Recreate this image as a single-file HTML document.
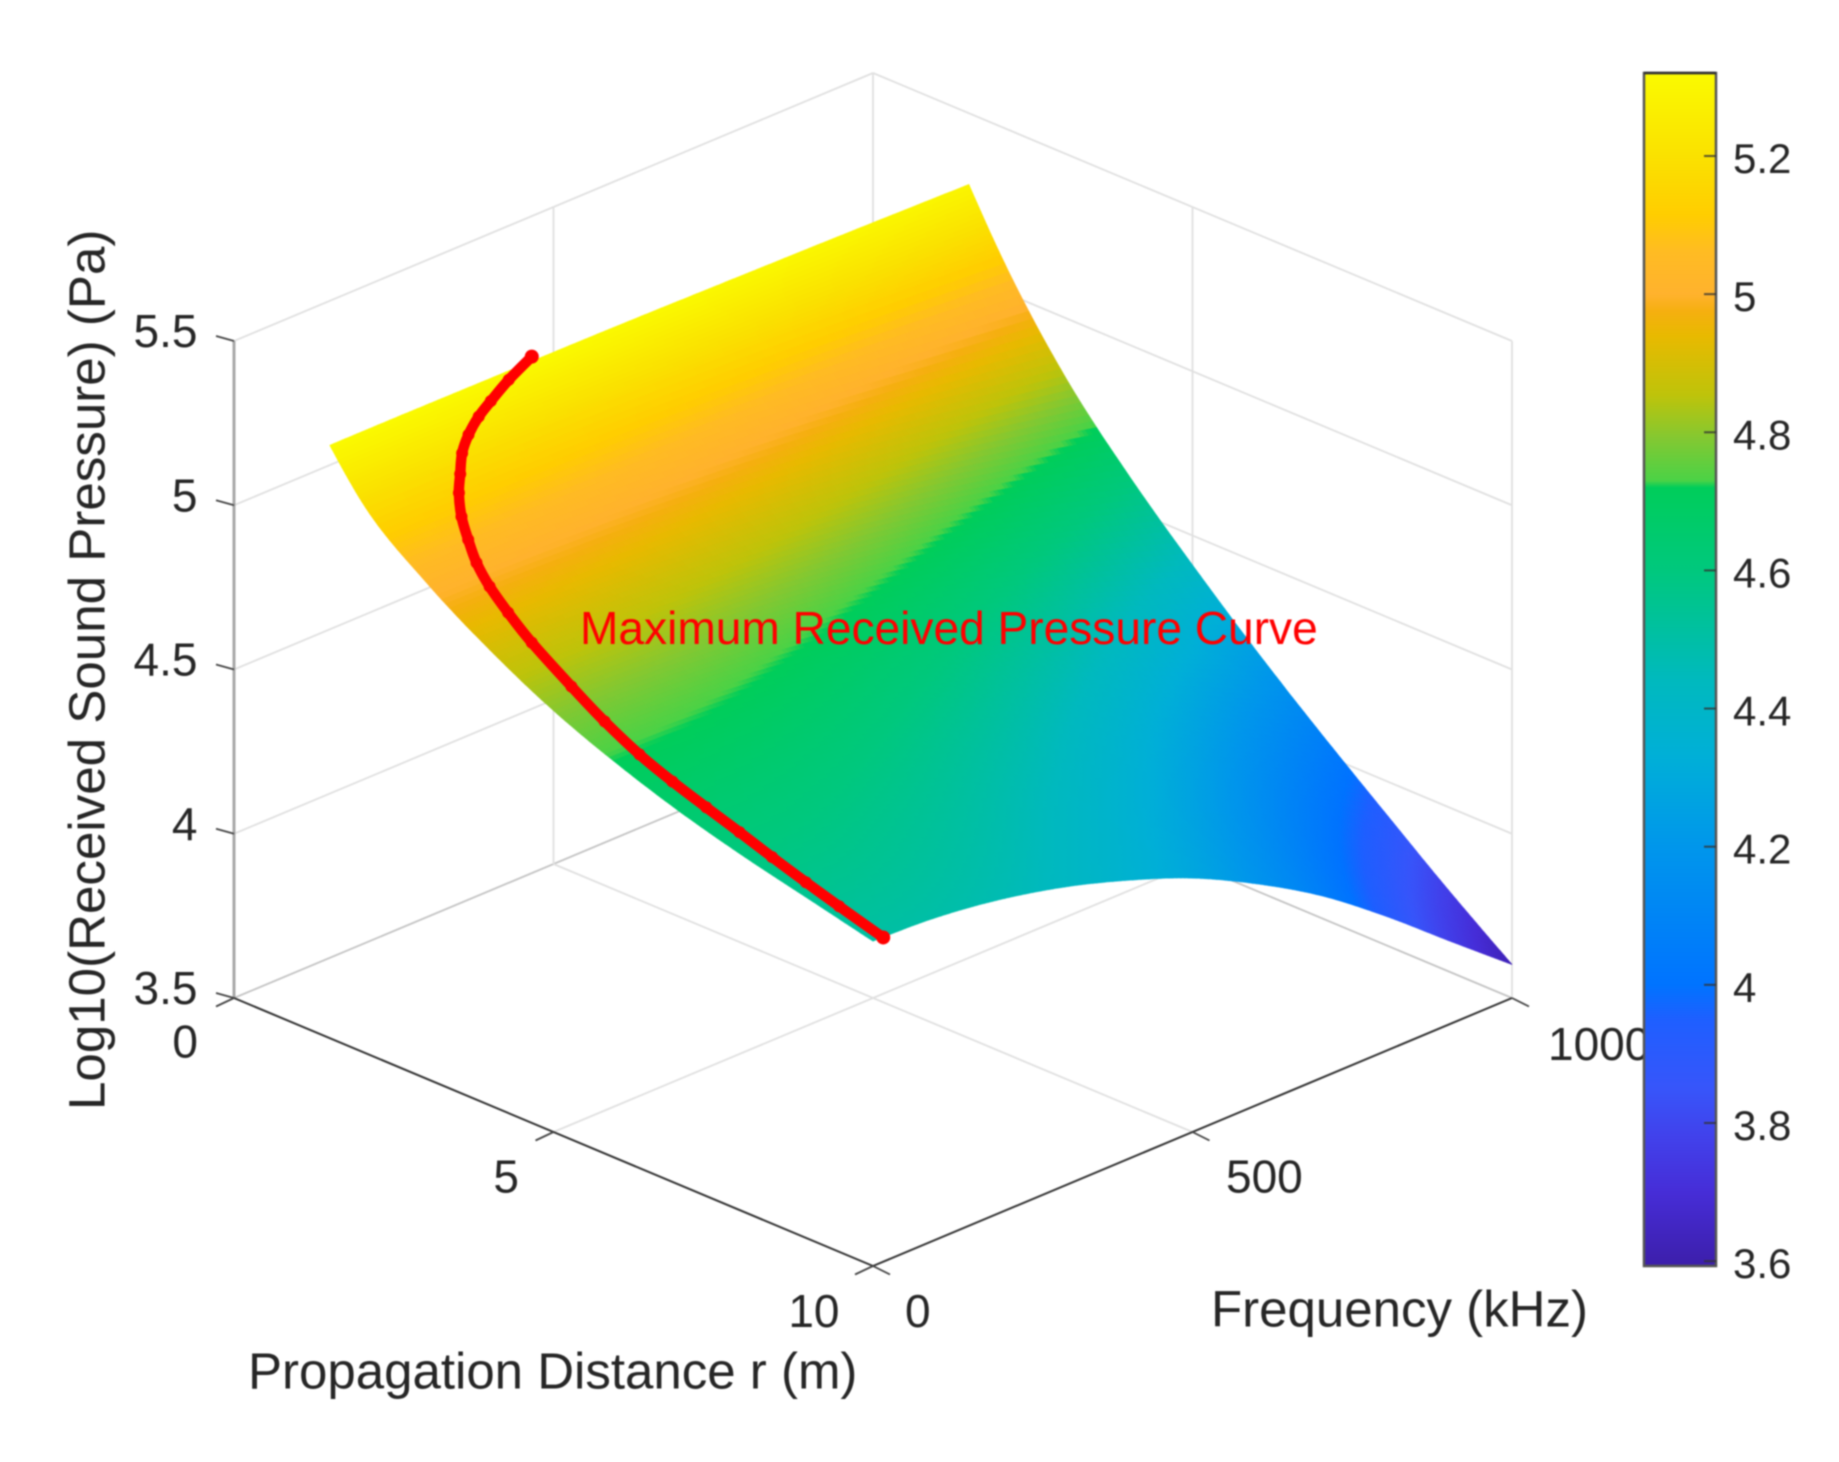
<!DOCTYPE html>
<html lang="en">
<head>
<meta charset="utf-8">
<title>Maximum Received Pressure Surface</title>
<style>
html,body{margin:0;padding:0;background:#fff;width:1839px;height:1462px;overflow:hidden}
svg{display:block;filter:blur(0.85px)}
text{font-family:"Liberation Sans",Arial,sans-serif;fill:#262626}
</style>
</head>
<body>
<svg id="chart" xmlns="http://www.w3.org/2000/svg" width="1839" height="1462" viewBox="0 0 1839 1462">
  <rect width="1839" height="1462" fill="#ffffff"/>
  <g id="grid"></g>
  <g id="surface"></g>
  <g id="curve"></g>
  <g id="axes"></g>
  <text x="248" y="1388.5" font-size="51">Propagation Distance r (m)</text>
  <text x="1211" y="1326.5" font-size="51">Frequency (kHz)</text>
  <text transform="translate(104.5 1110) rotate(-90)" font-size="51.1">Log10(Received Sound Pressure) (Pa)</text>
  <text x="580" y="644" font-size="46.1" style="fill:#ff0000">Maximum Received Pressure Curve</text>
  <g id="colorbar"></g>
</svg>
<script>
// ---- Data ----
const rValues = [1.5, 2, 3, 4, 5, 6, 7, 8, 9, 10];
const freqValues = [0, 100, 200, 300, 400, 500, 600, 700, 800, 900, 1000];
const zRow1p5 = [5.305, 5.305, 5.304, 5.303, 5.302, 5.300, 5.297, 5.294, 5.291, 5.287, 5.283];
const zRow2 = [5.174, 5.173, 5.171, 5.168, 5.164, 5.158, 5.151, 5.142, 5.131, 5.120, 5.108];
const zRow3 = [5.012, 5.010, 5.004, 4.995, 4.982, 4.966, 4.945, 4.919, 4.889, 4.856, 4.822];
const zRow4 = [4.887, 4.884, 4.875, 4.861, 4.842, 4.817, 4.786, 4.748, 4.703, 4.653, 4.602];
const zRow5 = [4.783, 4.779, 4.768, 4.749, 4.724, 4.692, 4.651, 4.601, 4.542, 4.477, 4.410];
const zRow6 = [4.702, 4.697, 4.683, 4.660, 4.627, 4.587, 4.534, 4.472, 4.398, 4.315, 4.230];
const zRow7 = [4.635, 4.629, 4.612, 4.584, 4.544, 4.495, 4.432, 4.356, 4.266, 4.166, 4.063];
const zRow8 = [4.581, 4.574, 4.553, 4.520, 4.473, 4.416, 4.341, 4.251, 4.144, 4.026, 3.904];
const zRow9 = [4.535, 4.527, 4.503, 4.464, 4.410, 4.343, 4.256, 4.151, 4.027, 3.890, 3.748];
const zRow10 = [4.489, 4.480, 4.453, 4.409, 4.348, 4.273, 4.174, 4.057, 3.914, 3.757, 3.602];
const zMatrix = [zRow1p5, zRow2, zRow3, zRow4, zRow5, zRow6, zRow7, zRow8, zRow9, zRow10];

const curveR = [1.5, 1.55, 1.65, 1.72, 1.82, 1.93, 2.1, 2.27, 2.5, 2.75, 3.0, 3.35, 3.7, 4.12, 4.85, 5.4, 6, 6.5, 7.05, 7.62, 8.15, 8.75, 9.25, 10];
const curveF = [316, 275, 237, 211, 185, 164, 144, 125, 106, 91.5, 79.5, 65, 59, 54, 43, 40, 34.5, 36, 34, 29, 27, 20, 22, 16];
const curveZ = [5.317, 5.284, 5.2585, 5.238, 5.212, 5.182, 5.149, 5.121, 5.083, 5.045, 5.005, 4.973, 4.927, 4.874, 4.809, 4.75, 4.703, 4.66, 4.628, 4.603, 4.572, 4.55, 4.516, 4.487];

const rTicks = [0, 5, 10];
const fTicks = [0, 500, 1000];
const zTicks = [3.5, 4, 4.5, 5, 5.5];
const zTickLabels = ['3.5', '4', '4.5', '5', '5.5'];
const colorTicks = [3.6, 3.8, 4, 4.2, 4.4, 4.6, 4.8, 5, 5.2];
const colorTickLabels = ['3.6', '3.8', '4', '4.2', '4.4', '4.6', '4.8', '5', '5.2'];

const cmapValues = [3.593, 3.7, 3.78, 3.85, 3.95, 4.0, 4.2, 4.33, 4.44, 4.6, 4.72, 4.73, 4.79, 4.854, 4.94, 4.975, 5.0, 5.06, 5.115, 5.2, 5.32];
const cmapColors = [[60,30,170],[70,45,215],[65,65,235],[55,85,250],[30,95,255],[0,115,255],[0,150,235],[0,175,215],[0,185,190],[0,200,125],[0,205,90],[75,210,70],[130,200,50],[190,195,10],[232,185,0],[245,175,15],[255,178,45],[255,187,35],[255,205,0],[250,225,0],[250,250,0]];
const surfaceColorOffset = 0.015;

// ---- Axis functions ----
const SVGNS = 'http://www.w3.org/2000/svg';
function px(r, f) { return 234 + r / 10 * 639 + f / 1000 * 639; }
function py(r, f, z) { return 998 + r / 10 * 268 - f / 1000 * 268 - (z - 3.5) / 2 * 657; }
function cbY(v) { return 156 + (5.2 - v) * 690.7; }

function mk(tag, attrs, parent) {
  const e = document.createElementNS(SVGNS, tag);
  for (const k in attrs) e.setAttribute(k, attrs[k]);
  parent.appendChild(e);
  return e;
}
function cmap(v) {
  const n = cmapValues.length;
  if (v <= cmapValues[0]) return 'rgb(' + cmapColors[0].join(',') + ')';
  if (v >= cmapValues[n - 1]) return 'rgb(' + cmapColors[n - 1].join(',') + ')';
  let i = 0;
  while (v > cmapValues[i + 1]) i++;
  const t = (v - cmapValues[i]) / (cmapValues[i + 1] - cmapValues[i]);
  const a = cmapColors[i], b = cmapColors[i + 1];
  return 'rgb(' + Math.round(a[0] + (b[0] - a[0]) * t) + ',' + Math.round(a[1] + (b[1] - a[1]) * t) + ',' + Math.round(a[2] + (b[2] - a[2]) * t) + ')';
}

// ---- Grid ----
const grid = document.getElementById('grid');
function gridLine(x1, y1, x2, y2, color, w) {
  const l = mk('line', {x1: x1, y1: y1, x2: x2, y2: y2, stroke: color, 'stroke-width': w}, grid);
  
  
}
const rMax = rTicks[rTicks.length - 1], fMax = fTicks[fTicks.length - 1];
const zMin = zTicks[0], zMax = zTicks[zTicks.length - 1];
zTicks.forEach(function (z, i) {
  const c = i === 0 ? '#c4c4c4' : '#e0e0e0';
  gridLine(px(0, 0), py(0, 0, z), px(0, fMax), py(0, fMax, z), c, 1.8);
  gridLine(px(0, fMax), py(0, fMax, z), px(rMax, fMax), py(rMax, fMax, z), c, 1.8);
});
fTicks.forEach(function (f) {
  if (f > 0) gridLine(px(0, f), py(0, f, zMin), px(0, f), py(0, f, zMax), '#e0e0e0', 1.8);
  if (f > 0 && f < fMax) gridLine(px(0, f), py(0, f, zMin), px(rMax, f), py(rMax, f, zMin), '#e0e0e0', 1.8);
});
rTicks.forEach(function (r) {
  if (r > 0) gridLine(px(r, fMax), py(r, fMax, zMin), px(r, fMax), py(r, fMax, zMax), '#e0e0e0', 1.8);
  if (r > 0 && r < rMax) gridLine(px(r, 0), py(r, 0, zMin), px(r, fMax), py(r, fMax, zMin), '#e0e0e0', 1.8);
});

// ---- Surface: smooth Hermite drawing through the table ----
const surface = document.getElementById('surface');
const SUB = 16;
function tangents(xs, ys) {
  const n = xs.length, d = [], h = [], m = [];
  for (let i = 0; i < n - 1; i++) { h.push(xs[i + 1] - xs[i]); d.push((ys[i + 1] - ys[i]) / h[i]); }
  for (let i = 1; i < n - 1; i++) m[i] = (h[i] * d[i - 1] + h[i - 1] * d[i]) / (h[i - 1] + h[i]);
  m[0] = (3 * d[0] - m[1]) / 2;
  m[n - 1] = (3 * d[n - 2] - m[n - 2]) / 2;
  return m;
}
function hermite(xs, ys, ms, i, t) {
  const h = xs[i + 1] - xs[i], t2 = t * t, t3 = t2 * t;
  return (2 * t3 - 3 * t2 + 1) * ys[i] + (t3 - 2 * t2 + t) * h * ms[i] + (-2 * t3 + 3 * t2) * ys[i + 1] + (t3 - t2) * h * ms[i + 1];
}
function fineSteps(values) {
  const out = [];
  for (let i = 0; i < values.length - 1; i++) {
    for (let a = 0; a < SUB; a++) out.push({i: i, t: a / SUB, v: values[i] + (values[i + 1] - values[i]) * a / SUB});
  }
  out.push({i: values.length - 2, t: 1, v: values[values.length - 1]});
  return out;
}
const fineR = fineSteps(rValues), fineF = fineSteps(freqValues);
const rowsAlongF = zMatrix.map(function (row) {
  const ms = tangents(freqValues, row);
  return fineF.map(function (F) { return hermite(freqValues, row, ms, F.i, F.t); });
});
const fineZ = fineR.map(function () { return []; });
fineF.forEach(function (F, k) {
  const col = rowsAlongF.map(function (row) { return row[k]; });
  const ms = tangents(rValues, col);
  fineR.forEach(function (R, q) { fineZ[q][k] = hermite(rValues, col, ms, R.i, R.t); });
});
for (let i = 0; i < fineR.length - 1; i++) {
  for (let j = fineF.length - 2; j >= 0; j--) {
    const pts = [[i, j], [i + 1, j], [i + 1, j + 1], [i, j + 1]];
    let zs = 0, s = '';
    pts.forEach(function (p) {
      const r = fineR[p[0]].v, f = fineF[p[1]].v, z = fineZ[p[0]][p[1]];
      zs += z;
      s += px(r, f).toFixed(1) + ',' + py(r, f, z).toFixed(1) + ' ';
    });
    const col = cmap(zs / 4 + surfaceColorOffset);
    const poly = mk('polygon', {points: s, fill: col, stroke: col, 'stroke-width': 0.7}, surface);
    
    
  }
}

// ---- Red curve ----
const curve = document.getElementById('curve');
const cp = curveR.map(function (r, i) { return [px(r, curveF[i]), py(r, curveF[i], curveZ[i])]; });
let d = 'M' + cp[0][0].toFixed(1) + ' ' + cp[0][1].toFixed(1);
for (let i = 0; i < cp.length - 1; i++) {
  const p0 = cp[Math.max(0, i - 1)], p1 = cp[i], p2 = cp[i + 1], p3 = cp[Math.min(cp.length - 1, i + 2)];
  d += ' C' + (p1[0] + (p2[0] - p0[0]) / 6).toFixed(1) + ' ' + (p1[1] + (p2[1] - p0[1]) / 6).toFixed(1) + ' ' +
       (p2[0] - (p3[0] - p1[0]) / 6).toFixed(1) + ' ' + (p2[1] - (p3[1] - p1[1]) / 6).toFixed(1) + ' ' +
       p2[0].toFixed(1) + ' ' + p2[1].toFixed(1);
}
const curvePath = mk('path', {d: d, fill: 'none', stroke: '#ff0000', 'stroke-width': 10.5, 'stroke-linejoin': 'round'}, curve);


cp.forEach(function (p, i) {
  const end = i === 0 || i === cp.length - 1;
  const c = mk('circle', {cx: p[0], cy: p[1], r: end ? 7 : 6, fill: '#ff0000'}, curve);
  
  
});

// ---- Axes ----
const axes = document.getElementById('axes');
function axisLine(x1, y1, x2, y2, color, w, name) {
  const l = mk('line', {x1: x1, y1: y1, x2: x2, y2: y2, stroke: color, 'stroke-width': w}, axes);
  
  
}
function label(x, y, str, anchor, size, parent, name) {
  const t = mk('text', {x: x, y: y, 'text-anchor': anchor, 'font-size': size}, parent);
  t.textContent = str;
  
  
}
axisLine(px(0, 0), py(0, 0, zMin), px(0, 0), py(0, 0, zMax), '#a8a8a8', 3, 'z-axis-line');
axisLine(px(0, 0), py(0, 0, zMin), px(rMax, 0), py(rMax, 0, zMin), '#333333', 2, 'r-axis-line');
axisLine(px(rMax, 0), py(rMax, 0, zMin), px(rMax, fMax), py(rMax, fMax, zMin), '#333333', 2, 'frequency-axis-line');
zTicks.forEach(function (z, i) {
  const x = px(0, 0), y = py(0, 0, z);
  axisLine(x, y, x - 18, y - 5, '#444444', 1.8, 'z-tick');
  label(197.5, y + 6, zTickLabels[i], 'end', 46, axes, 'z-tick-label');
});
const rLabelX = [198, 519, 839.5];
const rLabelY = [1057.5, 1192.5, 1327];
rTicks.forEach(function (r, i) {
  const x = px(r, 0), y = py(r, 0, zMin);
  axisLine(x, y, x - 18, y + 8.5, '#444444', 1.8, 'r-tick');
  label(rLabelX[i], rLabelY[i], String(r), 'end', 46, axes, 'r-tick-label');
});
const fLabelX = [905, 1226, 1548];
const fLabelY = [1327, 1192.5, 1060];
fTicks.forEach(function (f, i) {
  const x = px(rMax, f), y = py(rMax, f, zMin);
  axisLine(x, y, x + 17, y + 8.5, '#444444', 1.8, 'frequency-tick');
  label(fLabelX[i], fLabelY[i], String(f), 'start', 46, axes, 'frequency-tick-label');
});

// ---- Colorbar ----
const cb = document.getElementById('colorbar');
const cbLeft = 1644, cbRight = 1716, cbTop = 73, cbBottom = 1266;
const defs = mk('defs', {}, cb);
const grad = mk('linearGradient', {id: 'cbGrad', x1: 0, y1: 0, x2: 0, y2: 1}, defs);
cmapValues.slice().reverse().forEach(function (v) {
  const off = (cbY(v) - cbTop) / (cbBottom - cbTop);
  mk('stop', {offset: Math.max(0, Math.min(1, off)), 'stop-color': cmap(v)}, grad);
});
const cbRect = mk('rect', {x: cbLeft, y: cbTop, width: cbRight - cbLeft, height: cbBottom - cbTop, fill: 'url(#cbGrad)', stroke: '#555555', 'stroke-width': 2.5}, cb);


const cbTopLine = mk('line', {x1: cbLeft, y1: cbTop, x2: cbRight, y2: cbTop, stroke: '#333333', 'stroke-width': 2.5}, cb);


colorTicks.forEach(function (v, i) {
  const y = cbY(v);
  const t = mk('line', {x1: cbRight - 12, y1: y, x2: cbRight, y2: y, stroke: '#333333', 'stroke-opacity': 0.8, 'stroke-width': 2}, cb);
  
  
  label(1733, y + 17, colorTickLabels[i], 'start', 42, cb, 'colorbar-tick-label');
});
</script>
</body>
</html>
